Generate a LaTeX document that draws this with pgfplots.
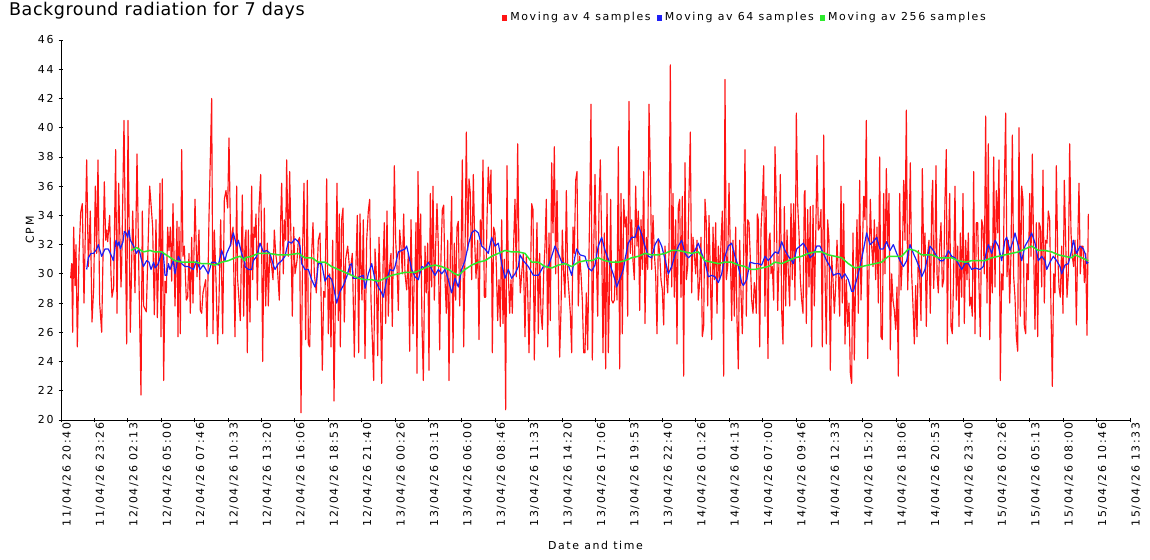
\documentclass[border=0pt]{standalone}
\usepackage{fontspec}
\setmainfont{DejaVu Sans}
\newfontfamily\axfont[LetterSpace=15]{DejaVu Sans}
\newfontfamily\titfont[LetterSpace=3]{DejaVu Sans}
\usepackage{pgfplots}
\usepackage{pgfplotstable}
\pgfplotsset{compat=1.18}
\definecolor{cred}{RGB}{255,20,20}
\definecolor{cblue}{RGB}{30,30,245}
\definecolor{cgreen}{RGB}{45,235,45}

% columns: o = crop offset (px), zx = position in 3x crop, v = CPM
\pgfplotstableread{
o zx v
55 47 29.7
55 50 30.7
55 53 26.0
55 56 33.2
55 60 29.2
55 63 32.0
55 67 25.0
55 72 31.2
55 77 34.2
55 82 34.8
55 87 28.0
55 95 37.8
55 100 30.5
55 106 34.3
55 111 26.7
55 116 29.0
55 121 36.0
55 125 31.4
55 129 37.8
55 134 28.0
55 140 26.0
55 148 36.3
55 152 32.3
55 155 33.0
55 158 32.2
55 164 34.0
55 168 30.0
55 171 28.4
55 176 29.1
55 182 38.5
55 186 27.3
55 191 36.2
55 194 33.2
55 198 29.1
55 200 30.5
55 207 40.5
55 215 25.2
55 219 40.5
55 226 26.0
55 233 34.3
55 240 28.7
55 246 38.2
55 252 29.5
55 258 21.7
55 262 34.3
55 266 27.8
55 274 27.4
55 284 36.0
55 288 34.8
55 293 33.2
55 298 27.2
55 303 33.7
55 307 27.0
55 312 32.1
55 315 36.2
55 318 25.7
55 322 36.5
55 326 22.7
55 330 29.5
55 334 28.7
55 338 33.2
55 342 31.6
55 346 33.2
55 350 29.5
55 354 34.8
55 360 27.8
55 366 33.6
55 369 25.7
55 372 33.2
55 376 25.9
55 380 38.5
55 384 31.2
55 388 31.9
55 394 28.2
55 398 28.4
55 402 31.4
55 406 27.3
55 410 32.5
55 414 28.0
55 420 35.1
55 426 29.8
55 432 33.0
55 436 27.5
55 440 27.3
55 444 28.7
55 452 29.6
55 456 25.7
55 462 33.9
55 470 42.0
55 474 25.9
55 478 33.0
55 483 29.6
55 488 25.2
55 492 28.2
55 497 33.7
55 503 25.9
55 508 35.1
55 513 35.7
55 518 34.5
55 522 39.3
55 527 31.9
55 534 33.2
55 540 25.7
55 545 36.0
55 548 29.6
55 556 26.8
55 562 35.4
55 566 27.1
55 570 32.3
235 33 33.0
235 37 24.6
235 40 33.0
235 45 26.7
235 50 36.0
235 53 29.6
235 57 33.2
235 60 32.5
235 63 34.1
235 67 28.2
235 72 34.5
235 77 36.8
235 80 31.9
235 83 24.0
235 88 34.5
235 92 27.8
235 97 32.1
235 100 27.8
235 104 31.4
235 110 30.5
235 114 29.6
235 118 33.0
235 122 31.4
235 127 30.5
235 133 28.2
235 137 33.6
235 140 36.2
235 145 30.0
235 148 33.7
235 152 32.3
235 155 37.8
235 160 31.2
235 164 37.0
235 168 32.3
235 172 27.1
235 176 33.2
235 180 30.0
235 186 30.9
235 190 32.3
235 194 32.5
235 198 20.5
235 203 31.9
235 207 36.2
235 212 25.5
235 217 36.4
235 220 25.2
235 224 25.0
235 230 31.4
235 234 33.5
235 238 30.0
235 244 28.7
235 250 32.3
235 255 32.8
235 262 23.4
235 266 28.8
235 270 28.4
235 275 36.5
235 280 25.9
235 284 30.0
235 288 25.0
235 293 32.3
235 297 21.3
235 302 29.6
235 306 36.2
235 310 26.8
235 313 34.1
235 316 25.0
235 320 33.7
235 324 34.5
235 328 26.7
235 332 31.0
235 338 31.9
235 345 30.0
235 352 31.4
235 358 24.3
235 362 30.0
235 367 34.0
235 371 24.6
235 375 34.1
235 378 30.5
235 381 28.2
235 385 33.7
235 390 24.2
235 395 32.3
235 400 34.3
235 404 35.1
235 408 28.2
235 412 25.5
235 416 22.7
235 420 31.7
235 424 30.0
235 428 24.4
235 432 32.5
235 436 29.1
235 440 22.5
235 444 30.5
235 448 33.5
235 452 26.6
235 456 34.3
235 460 27.1
235 464 30.5
235 468 31.4
235 472 26.4
235 478 37.4
235 482 32.3
235 486 30.5
235 490 27.5
235 494 33.0
235 498 31.9
235 502 30.0
235 506 34.1
235 510 30.0
235 515 28.9
235 520 31.4
235 524 24.7
235 528 33.7
235 534 25.9
235 538 30.0
405 30 30.0
405 33 33.5
405 36 23.2
405 39 37.0
405 43 30.0
405 47 34.1
405 51 26.6
405 55 22.7
405 60 31.9
405 64 28.7
405 68 32.1
405 72 23.4
405 76 35.5
405 80 29.1
405 84 36.0
405 88 28.2
405 92 31.9
405 96 34.8
405 100 31.9
405 104 24.8
405 108 31.2
405 112 34.4
405 116 34.7
405 120 29.6
405 124 27.3
405 128 32.3
405 132 22.7
405 136 31.4
405 140 35.3
405 144 24.6
405 148 32.1
405 152 28.2
405 156 33.2
405 160 33.6
405 164 27.8
405 168 30.7
405 172 37.8
405 176 25.0
405 180 31.4
405 184 39.7
405 188 31.6
405 192 36.5
405 196 35.5
405 200 29.6
405 205 36.8
405 209 32.3
405 213 29.7
405 218 32.3
405 222 25.5
405 226 33.7
405 230 31.9
405 234 37.8
405 238 28.4
405 242 28.4
405 246 33.7
405 250 37.3
405 254 34.8
405 258 37.1
405 262 24.6
405 266 33.2
405 270 32.8
405 274 30.5
405 278 26.8
405 282 29.6
405 286 26.4
405 290 33.7
405 294 26.6
405 298 31.0
405 302 20.7
405 306 37.4
405 310 30.0
405 314 27.3
405 318 29.6
405 322 27.3
405 326 32.1
405 330 35.1
405 334 29.8
405 338 38.9
405 342 31.2
405 346 28.7
405 350 30.0
405 355 31.4
405 360 25.7
405 364 31.2
405 368 28.9
405 372 24.6
405 376 28.9
405 380 34.8
405 384 34.4
405 388 24.1
405 392 30.0
405 396 33.5
405 400 25.9
405 404 31.4
405 408 27.3
405 412 26.2
405 416 30.0
405 420 31.9
405 424 35.1
405 428 25.0
405 432 32.8
405 436 26.8
405 440 37.6
405 444 32.8
405 448 38.7
405 452 30.0
405 456 35.7
405 460 30.0
405 464 24.3
405 468 27.5
405 472 33.0
405 476 30.0
405 480 28.4
405 484 35.7
405 488 30.0
405 492 28.7
405 496 27.3
405 500 24.6
405 504 33.2
405 508 31.4
405 512 36.4
405 516 37.0
405 520 27.8
405 524 31.2
405 528 30.0
405 532 28.2
405 536 24.6
575 30 24.6
575 34 28.7
575 38 24.8
575 42 31.4
575 45 35.7
575 48 41.6
575 52 24.1
575 56 31.4
575 60 36.8
575 64 31.2
575 68 27.1
575 72 34.6
575 76 37.8
575 80 32.3
575 84 24.6
575 88 32.8
575 92 23.5
575 96 35.5
575 100 24.6
575 104 29.8
575 107 35.1
575 110 28.2
575 114 28.0
575 118 28.2
575 122 30.9
575 126 28.2
575 130 38.7
575 134 23.5
575 138 35.5
575 142 25.9
575 146 35.1
575 150 33.2
575 154 33.9
575 158 27.1
575 162 41.8
575 166 31.4
575 170 33.7
575 174 30.9
575 178 29.6
575 182 36.0
575 186 31.9
575 190 34.3
575 194 27.5
575 198 33.7
575 202 30.3
575 206 37.0
575 210 26.6
575 214 32.5
575 218 30.3
575 222 41.6
575 226 37.1
575 230 30.3
575 234 34.0
575 238 31.4
575 242 30.0
575 246 25.9
575 250 32.3
575 254 31.4
575 258 29.6
575 262 28.9
575 266 26.5
575 270 31.9
575 274 30.0
575 278 28.7
575 282 31.4
575 286 44.3
575 290 29.1
575 294 35.5
575 298 28.4
575 302 33.7
575 306 25.2
575 310 34.6
575 314 35.1
575 318 28.4
575 322 35.3
575 326 23.0
575 330 37.6
575 334 29.6
575 338 30.5
575 342 35.5
575 346 39.7
575 350 28.7
575 354 32.5
575 358 31.4
575 362 30.0
575 366 32.3
575 370 28.2
575 374 29.4
575 378 32.5
575 382 25.7
575 386 26.4
575 390 35.1
575 394 33.5
575 398 27.8
575 402 34.0
575 406 30.0
575 410 25.5
575 414 33.2
575 418 29.6
575 422 33.5
575 426 27.3
575 430 31.9
575 434 29.6
575 438 32.1
575 442 34.3
575 446 23.0
575 450 43.3
575 454 29.6
575 458 30.5
575 462 36.2
575 466 31.6
575 470 26.8
575 474 32.3
575 478 27.1
575 482 33.2
575 486 26.8
575 490 23.5
575 494 32.3
575 498 28.7
575 502 25.9
575 506 31.2
575 510 38.5
575 514 27.1
575 518 33.7
575 522 33.5
575 526 31.0
575 530 28.2
575 534 27.3
575 538 29.4
745 30 29.1
745 34 27.3
745 37 34.1
745 40 33.7
745 44 25.0
745 48 33.0
745 52 34.9
745 56 37.4
745 60 27.1
745 63 35.3
745 66 30.0
745 69 24.2
745 72 32.3
745 75 32.8
745 78 30.0
745 82 30.5
745 86 28.2
745 90 38.7
745 94 34.8
745 98 27.5
745 102 30.9
745 106 36.8
745 110 27.5
745 114 25.2
745 118 34.6
745 122 27.8
745 126 33.0
745 130 30.0
745 134 27.8
745 138 34.8
745 142 29.6
745 146 34.8
745 150 28.2
745 154 41.0
745 158 34.8
745 162 32.8
745 166 29.6
745 170 28.2
745 174 27.3
745 178 35.5
745 180 35.7
745 184 26.6
745 188 34.4
745 192 29.1
745 196 34.6
745 200 25.0
745 204 34.7
745 208 27.8
745 212 32.3
745 216 38.1
745 220 33.0
745 224 33.2
745 228 34.4
745 232 25.0
745 236 39.5
745 240 30.0
745 244 25.2
745 248 33.7
745 252 32.3
745 256 23.4
745 260 31.2
745 264 29.6
745 268 27.3
745 272 29.1
745 276 32.3
745 280 30.0
745 284 27.1
745 288 36.0
745 292 28.0
745 296 34.8
745 300 25.2
745 304 29.6
745 308 26.4
745 312 28.0
745 316 23.2
745 320 22.5
745 324 32.8
745 328 24.1
745 332 30.0
745 336 33.7
745 340 27.3
745 344 36.4
745 348 28.2
745 352 31.4
745 356 35.3
745 360 33.7
745 364 40.5
745 368 24.2
745 372 30.0
745 376 35.1
745 380 31.9
745 384 30.5
745 388 33.7
745 392 29.6
745 396 33.2
745 400 28.0
745 404 38.0
745 408 25.7
745 412 25.5
745 416 35.5
745 420 30.0
745 424 37.2
745 428 31.9
745 432 35.5
745 436 24.8
745 440 30.0
745 444 28.2
745 448 27.5
745 452 26.2
745 456 29.1
745 460 23.0
745 464 35.5
745 468 28.9
745 472 30.9
745 476 36.4
745 480 32.3
745 484 41.2
745 488 28.9
745 492 32.0
745 496 37.6
745 500 30.0
745 504 27.8
745 508 25.2
745 512 29.2
745 516 25.7
745 520 31.6
745 524 30.0
745 528 26.8
745 532 37.2
745 536 31.2
915 30 32.8
915 34 26.4
915 38 31.4
915 42 32.3
915 46 27.3
915 50 34.7
915 53 36.4
915 56 29.0
915 60 31.9
915 63 37.4
915 66 30.0
915 70 28.7
915 74 31.9
915 78 33.5
915 82 29.1
915 86 29.6
915 90 35.1
915 94 38.5
915 97 25.2
915 100 31.4
915 104 35.5
915 108 26.4
915 112 25.9
915 116 30.0
915 120 36.0
915 124 28.2
915 128 31.9
915 132 26.4
915 136 32.8
915 140 28.4
915 144 35.5
915 148 26.6
915 152 32.3
915 156 29.6
915 160 32.8
915 164 27.8
915 168 28.4
915 172 27.1
915 176 37.0
915 180 25.9
915 184 33.5
915 188 33.5
915 192 29.1
915 196 25.7
915 200 33.7
915 204 33.2
915 208 30.0
915 212 40.8
915 216 28.0
915 220 38.9
915 224 25.5
915 228 31.9
915 232 28.7
915 236 38.0
915 240 29.1
915 244 35.7
915 248 32.8
915 252 37.8
915 256 22.7
915 260 30.0
915 264 28.9
915 268 36.0
915 272 41.0
915 276 29.8
915 280 32.3
915 284 28.0
915 288 31.4
915 292 39.5
915 296 29.8
915 300 28.4
915 304 25.7
915 308 24.7
915 312 40.0
915 316 27.1
915 320 36.0
915 324 35.1
915 328 26.4
915 332 25.9
915 336 30.7
915 340 29.6
915 344 35.5
915 348 31.2
915 352 38.2
915 356 31.6
915 360 26.2
915 364 33.5
915 368 25.7
915 372 33.5
915 376 33.2
915 380 29.1
915 384 37.1
915 388 28.0
915 392 32.3
915 396 32.1
915 400 34.3
915 404 33.7
915 408 27.5
915 412 22.3
915 416 30.0
915 420 28.7
915 424 37.4
915 428 31.4
915 432 29.1
915 436 28.4
915 440 31.9
915 444 27.3
915 448 36.4
915 452 32.3
915 456 28.4
915 460 30.0
915 464 38.9
915 468 32.8
915 472 31.2
915 476 30.5
915 480 32.3
915 484 26.5
915 488 31.9
915 492 36.2
915 496 30.0
915 500 31.9
915 504 31.9
915 508 29.4
915 512 31.4
915 516 25.8
915 520 34.1
}\redtab

\pgfplotstableread{
o zx v
55 95 30.3
55 100 31.1
55 108 31.4
55 116 31.4
55 125 31.7
55 130 32.0
55 135 31.6
55 140 31.2
55 150 31.7
55 160 31.7
55 170 31.2
55 175 30.9
55 183 32.3
55 188 31.9
55 192 32.2
55 196 31.7
55 204 32.2
55 208 32.9
55 213 32.8
55 218 32.5
55 222 33.0
55 226 32.3
55 236 31.9
55 244 31.4
55 252 31.7
55 260 30.9
55 265 30.5
55 275 30.9
55 282 30.8
55 288 30.3
55 296 30.8
55 300 30.4
55 310 30.7
55 320 31.5
55 325 31.4
55 330 29.9
55 335 29.9
55 340 30.7
55 345 30.3
55 355 30.9
55 360 30.0
55 370 31.2
55 380 30.7
55 390 30.5
55 400 30.5
55 415 30.3
55 425 30.9
55 435 30.3
55 445 30.6
55 460 30.0
55 470 30.8
55 480 30.8
55 490 30.6
55 500 31.6
55 510 30.9
55 515 31.4
55 525 31.9
55 535 32.8
55 545 31.9
55 550 32.3
55 560 31.4
55 570 30.7
235 30 30.5
235 40 30.3
235 50 30.3
235 55 30.9
235 65 31.2
235 75 32.1
235 85 31.5
235 95 31.6
235 105 31.4
235 115 30.6
235 120 30.3
235 130 30.7
235 140 30.9
235 150 31.2
235 160 32.2
235 170 32.1
235 180 32.4
235 190 32.2
235 195 31.9
235 200 30.7
235 210 30.3
235 220 30.3
235 230 29.6
235 240 29.1
235 245 29.6
235 250 30.7
235 260 30.7
235 270 29.5
235 280 29.9
235 290 29.6
235 295 29.2
235 305 28.0
235 315 28.8
235 325 29.2
235 335 29.8
235 345 30.6
235 350 30.7
235 355 29.7
235 365 29.7
235 375 29.8
235 385 29.9
235 390 29.0
235 400 30.0
235 410 30.7
235 420 29.6
235 430 29.1
235 440 28.7
235 445 28.4
235 455 29.6
235 465 30.3
235 475 30.2
235 480 30.5
235 490 31.5
235 500 31.6
235 510 31.7
235 515 31.9
235 520 31.4
235 530 30.3
235 540 29.8
405 40 29.6
405 50 30.5
405 60 30.4
405 70 30.8
405 80 30.3
405 90 29.9
405 100 30.3
405 110 30.0
405 120 30.3
405 130 29.6
405 140 28.7
405 150 29.7
405 160 29.1
405 170 30.3
405 180 30.9
405 190 32.0
405 200 32.8
405 210 33.0
405 220 32.8
405 230 31.9
405 240 31.7
405 250 31.4
405 260 32.5
405 270 31.9
405 280 32.1
405 290 30.7
405 300 29.7
405 310 30.3
405 320 29.7
405 330 30.0
405 340 30.5
405 345 31.3
405 355 30.9
405 370 30.5
405 385 29.9
405 400 29.9
405 415 30.5
405 430 30.5
405 440 31.2
405 450 31.9
405 460 31.4
405 470 30.8
405 480 30.7
405 490 30.6
405 500 29.9
405 510 31.2
405 515 31.7
405 525 31.3
405 540 31.2
575 40 30.4
575 50 30.2
575 60 30.6
575 65 31.3
575 70 31.9
575 80 32.5
575 90 31.6
575 100 31.0
575 110 30.3
575 120 29.6
575 125 29.1
575 135 29.7
575 145 30.3
575 150 31.0
575 160 32.1
575 170 32.5
575 180 32.5
575 190 33.3
575 200 32.7
575 210 31.9
575 220 31.2
575 230 31.1
575 240 32.0
575 250 32.4
575 260 31.9
575 270 31.0
575 280 30.0
575 290 30.5
575 300 31.3
575 310 31.9
575 320 32.3
575 330 31.4
575 340 31.1
575 350 31.3
575 360 31.6
575 370 32.1
575 380 31.4
575 390 30.8
575 400 29.8
575 410 29.9
575 420 29.8
575 430 29.4
575 440 30.0
575 450 31.2
575 460 31.9
575 470 32.1
575 480 31.2
575 490 30.5
575 500 29.4
575 505 29.2
575 515 29.6
575 525 30.8
575 540 30.7
745 40 30.7
745 50 30.6
745 60 31.2
745 70 30.9
745 80 31.2
745 90 31.5
745 100 31.4
745 110 32.2
745 120 31.6
745 130 31.2
745 140 30.9
745 145 30.7
745 155 31.7
745 165 31.9
745 175 32.1
745 185 31.7
745 195 31.1
745 205 31.3
745 215 31.9
745 225 31.9
745 235 31.4
745 245 30.9
745 255 30.5
745 265 29.9
745 275 30.0
745 285 30.0
745 290 29.7
745 300 30.0
745 310 29.6
745 320 28.8
745 325 28.8
745 335 29.6
745 345 30.5
745 355 31.6
745 365 32.8
745 375 32.0
745 385 32.2
745 395 32.5
745 405 31.7
745 415 31.7
745 425 32.2
745 435 31.6
745 445 32.0
745 455 31.4
745 465 30.9
745 475 30.5
745 485 30.9
745 495 32.0
745 505 31.4
745 515 30.9
745 525 30.3
745 530 29.8
745 540 30.3
915 40 31.4
915 45 31.9
915 55 31.6
915 65 31.2
915 75 30.9
915 85 30.9
915 95 31.3
915 100 31.6
915 110 31.2
915 120 31.1
915 130 30.7
915 140 30.3
915 150 30.7
915 160 30.7
915 170 30.3
915 180 30.4
915 195 30.3
915 205 30.5
915 215 31.6
915 220 32.0
915 230 31.4
915 240 32.3
915 250 31.9
915 260 30.9
915 270 32.3
915 275 32.5
915 285 31.6
915 295 32.3
915 300 32.8
915 310 31.9
915 320 30.9
915 330 31.9
915 340 32.3
915 350 32.8
915 360 32.1
915 370 30.9
915 380 31.2
915 390 30.9
915 395 30.3
915 405 30.8
915 415 31.2
915 425 30.9
915 435 30.5
915 440 30.0
915 450 30.6
915 460 30.7
915 470 31.6
915 475 32.3
915 485 31.4
915 495 31.9
915 505 31.7
915 510 31.4
915 515 30.7
915 520 30.8
}\bluetab

\pgfplotstableread{
o zx v
55 228 31.6
55 245 31.8
55 265 31.5
55 285 31.6
55 300 31.5
55 320 31.5
55 340 31.2
55 360 30.9
55 380 30.8
55 400 30.8
55 420 30.8
55 440 30.7
55 460 30.7
55 480 30.6
55 500 30.8
55 520 30.9
55 540 31.1
55 555 31.2
55 570 30.9
235 30 31.1
235 50 31.2
235 70 31.4
235 100 31.4
235 130 31.3
235 160 31.3
235 190 31.4
235 210 31.1
235 230 31.1
235 250 30.8
235 270 30.8
235 290 30.5
235 310 30.3
235 330 30.1
235 350 29.9
235 370 29.7
235 390 29.6
235 410 29.6
235 430 29.5
235 450 29.7
235 470 29.9
235 490 30.0
235 510 30.1
235 540 30.1
405 50 30.3
405 70 30.5
405 90 30.6
405 110 30.5
405 130 30.3
405 150 30.0
405 160 29.9
405 180 30.3
405 200 30.6
405 220 30.8
405 240 30.9
405 260 31.2
405 280 31.4
405 300 31.6
405 320 31.5
405 340 31.5
405 360 31.4
405 370 31.1
405 380 30.8
405 400 30.8
405 420 30.5
405 440 30.4
405 460 30.6
405 480 30.7
405 500 30.5
405 520 30.8
405 540 30.9
575 50 30.9
575 70 31.1
575 90 30.9
575 110 30.8
575 130 30.8
575 150 30.9
575 170 31.1
575 190 31.2
575 210 31.4
575 230 31.3
575 250 31.3
575 270 31.4
575 290 31.6
575 310 31.6
575 330 31.5
575 350 31.4
575 370 31.5
575 390 30.9
575 410 30.8
575 430 30.7
575 450 30.8
575 470 30.8
575 490 30.6
575 510 30.5
575 525 30.3
575 540 30.3
745 50 30.4
745 70 30.5
745 90 30.8
745 110 30.7
745 130 30.9
745 150 31.1
745 170 31.2
745 190 31.4
745 210 31.5
745 230 31.5
745 250 31.3
745 270 31.2
745 290 31.1
745 310 30.7
745 330 30.4
745 350 30.5
745 370 30.6
745 390 30.7
745 410 30.8
745 430 31.2
745 450 31.2
745 470 31.2
745 490 31.7
745 510 31.6
745 530 31.3
745 540 31.3
915 50 31.3
915 70 31.1
915 90 31.1
915 110 31.1
915 130 30.9
915 150 30.8
915 170 30.9
915 190 30.9
915 210 30.9
915 230 31.1
915 250 31.2
915 270 31.3
915 290 31.4
915 310 31.5
915 330 31.7
915 350 31.9
915 370 31.6
915 390 31.6
915 410 31.5
915 430 31.3
915 450 31.2
915 470 31.1
915 480 31.3
915 500 31.1
915 520 30.9
}\greentab

\newcommand{\tickfont}{\axfont\fontsize{11}{13}\selectfont}

\begin{document}
\begin{tikzpicture}
\useasboundingbox (0,0) rectangle (1150bp,560bp);
\node[anchor=base west, inner sep=0pt, font=\titfont\fontsize{17.6}{20}\selectfont] at (9bp,544bp) {Background radiation for 7 days};
\begin{axis}[
  at={(61bp,140bp)}, anchor=south west,
  scale only axis, width=1069bp, height=380bp,
  xmin=0, xmax=32, ymin=20, ymax=46,
  axis x line=bottom, axis y line=left,
  axis line style={-, line width=0.8bp, black},
  xtick={0,...,32}, ytick={20,22,...,46},
  tick align=center, major tick length=4.5bp,
  tick style={line width=0.8bp, black},
  /pgf/number format/assume math mode=true,
  tick label style={font=\tickfont},
  xticklabel style={rotate=90, anchor=east, inner sep=0bp, yshift=-6bp},
  yticklabel style={anchor=east, inner sep=0bp, xshift=-5bp},
  xticklabels={11/04/26 20:40,11/04/26 23:26,12/04/26 02:13,12/04/26 05:00,12/04/26 07:46,12/04/26 10:33,12/04/26 13:20,12/04/26 16:06,12/04/26 18:53,12/04/26 21:40,13/04/26 00:26,13/04/26 03:13,13/04/26 06:00,13/04/26 08:46,13/04/26 11:33,13/04/26 14:20,13/04/26 17:06,13/04/26 19:53,13/04/26 22:40,14/04/26 01:26,14/04/26 04:13,14/04/26 07:00,14/04/26 09:46,14/04/26 12:33,14/04/26 15:20,14/04/26 18:06,14/04/26 20:53,14/04/26 23:40,15/04/26 02:26,15/04/26 05:13,15/04/26 08:00,15/04/26 10:46,15/04/26 13:33},
  xlabel={Date and time},
  xlabel style={font=\tickfont, at={(axis description cs:0.5,-0.329)}, anchor=center},
  ylabel={CPM},
  ylabel style={font=\tickfont, at={(axis description cs:-0.029,0.5)}, anchor=center},
  legend columns=3,
  legend style={at={(axis description cs:0.4124,1.0605)}, anchor=west, draw=none, fill=none,
    inner sep=0pt, font=\tickfont,
    nodes={inner sep=0bp},
    /tikz/every odd column/.append style={column sep=3bp},
    /tikz/every even column/.append style={column sep=6bp}},
  legend image code/.code={\fill[#1,draw=none,opacity=1] (0bp,-3.6bp) rectangle (5.2bp,2.4bp);},
  clip=true,
]
\addplot[cred, line width=1.15bp, line join=round] table[x expr=(\thisrow{o}+\thisrow{zx}/3-61)/33.40625, y=v] {\redtab};
\addlegendentry{Moving av 4 samples}
\addplot[cblue, line width=1.2bp, line join=round] table[x expr=(\thisrow{o}+\thisrow{zx}/3-61)/33.40625, y=v] {\bluetab};
\addlegendentry{Moving av 64 samples}
\addplot[cgreen, line width=1.5bp, line join=round] table[x expr=(\thisrow{o}+\thisrow{zx}/3-61)/33.40625, y=v] {\greentab};
\addlegendentry{Moving av 256 samples}
\end{axis}
\end{tikzpicture}
\end{document}
